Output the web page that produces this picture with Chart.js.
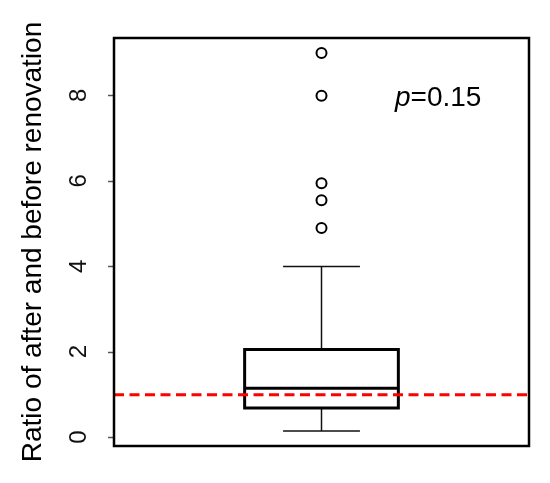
<!DOCTYPE html>
<html>
<head>
<meta charset="utf-8">
<script src="https://cdn.jsdelivr.net/npm/chart.js@4/dist/chart.umd.min.js"></script>
<style>
  body { margin: 0; background: #fff; }
  #wrap { width: 550px; height: 483px; }
</style>
</head>
<body>
<div id="wrap"><canvas id="chart" width="550" height="483"></canvas></div>
<script>
// Box plot values
const groups = [1];               // single group, centred at x = 1
const whiskerLow = [0.15];
const q1 = [0.69];
const median = [1.15];
const q3 = [2.06];
const whiskerHigh = [4.0];
const outliers = [4.9, 5.55, 5.95, 8.0, 9.0];
const refLine = [1];
const yTicks = [0, 2, 4, 6, 8];
const yTitle = 'Ratio of after and before renovation';
const pText = ['p', '=0.15'];

// Layout in x-scale units (R style: box width 0.4, staple 0.2)
const X_MIN = 0.46, X_MAX = 1.54;
const BOX_HALF = 0.2, STAPLE_HALF = 0.1;
const FONT = "'Liberation Sans', Arial, sans-serif";

const g = groups[0];

const datasets = [
    // red dashed reference line (first => drawn on top)
    {
        data: [{ x: X_MIN, y: refLine[0] }, { x: X_MAX, y: refLine[0] }],
        borderColor: '#ff0000', borderWidth: 3, borderDash: [10, 5.5]
    },
    // outliers
    {
        data: outliers.map(v => ({ x: g, y: v })),
        showLine: false, pointRadius: 5, borderWidth: 2,
        pointBorderColor: '#000', pointBackgroundColor: '#fff'
    },
    // median
    {
        data: [{ x: g - BOX_HALF, y: median[0] }, { x: g + BOX_HALF, y: median[0] }],
        borderColor: '#000', borderWidth: 3
    },
    // box
    {
        data: [
            { x: g - BOX_HALF, y: q1[0] }, { x: g + BOX_HALF, y: q1[0] },
            { x: g + BOX_HALF, y: q3[0] }, { x: g - BOX_HALF, y: q3[0] },
            { x: g - BOX_HALF, y: q1[0] }
        ],
        borderColor: '#000', borderWidth: 3, borderCapStyle: 'square', borderJoinStyle: 'miter'
    },
    // whiskers
    {
        data: [{ x: g, y: q3[0] }, { x: g, y: whiskerHigh[0] }],
        borderColor: '#111', borderWidth: 1.5
    },
    {
        data: [{ x: g, y: whiskerLow[0] }, { x: g, y: q1[0] }],
        borderColor: '#111', borderWidth: 1.5
    },
    // staples
    {
        data: [{ x: g - STAPLE_HALF, y: whiskerHigh[0] }, { x: g + STAPLE_HALF, y: whiskerHigh[0] }],
        borderColor: '#111', borderWidth: 1.5
    },
    {
        data: [{ x: g - STAPLE_HALF, y: whiskerLow[0] }, { x: g + STAPLE_HALF, y: whiskerLow[0] }],
        borderColor: '#111', borderWidth: 1.5
    }
].map(d => Object.assign({ showLine: true, pointRadius: 0, fill: false, tension: 0 }, d));

// plot frame, like R's box()
const framePlugin = {
    id: 'frame',
    afterDatasetsDraw(chart) {
        const { ctx, chartArea: a } = chart;
        ctx.save();
        ctx.strokeStyle = '#000';
        ctx.lineWidth = 2.5;
        ctx.strokeRect(a.left, a.top, a.right - a.left, a.bottom - a.top);
        ctx.restore();
    }
};

// p-value annotation with italic p
const pLabelPlugin = {
    id: 'pLabel',
    afterDraw(chart) {
        const { ctx, chartArea: a } = chart;
        const x = a.left + 0.677 * (a.right - a.left);
        const y = a.top + 68;
        ctx.save();
        ctx.fillStyle = '#000';
        ctx.textBaseline = 'alphabetic';
        ctx.font = 'italic 28px ' + FONT;
        ctx.fillText(pText[0], x, y);
        const w = ctx.measureText(pText[0]).width;
        ctx.font = '28px ' + FONT;
        ctx.fillText(pText[1], x + w, y);
        ctx.restore();
    }
};

new Chart(document.getElementById('chart'), {
    type: 'scatter',
    data: { datasets: datasets },
    options: {
        responsive: false,
        animation: false,
        layout: { padding: { left: 0, top: 38, right: 21, bottom: 37 } },
        plugins: { legend: { display: false }, tooltip: { enabled: false } },
        scales: {
            x: { type: 'linear', min: X_MIN, max: X_MAX, display: false },
            y: {
                type: 'linear',
                min: -0.2,
                max: 9.35,
                afterBuildTicks: s => { s.ticks = yTicks.map(v => ({ value: v })); },
                afterFit: s => {
                    s.width = 114;
                    s.paddingTop = 0;
                    s.paddingBottom = 0;
                },
                border: { display: false },
                grid: {
                    drawOnChartArea: false, drawTicks: true,
                    tickLength: 6, tickWidth: 1.5, tickColor: '#555'
                },
                ticks: {
                    minRotation: 90, maxRotation: 90,
                    padding: 29, labelOffset: -7,
                    color: '#111',
                    font: { family: FONT, size: 24 }
                },
                title: {
                    display: true, text: yTitle, color: '#000',
                    padding: { top: 16, bottom: 0 },
                    font: { family: FONT, size: 28 }
                }
            }
        }
    },
    plugins: [framePlugin, pLabelPlugin]
});
</script>
</body>
</html>
